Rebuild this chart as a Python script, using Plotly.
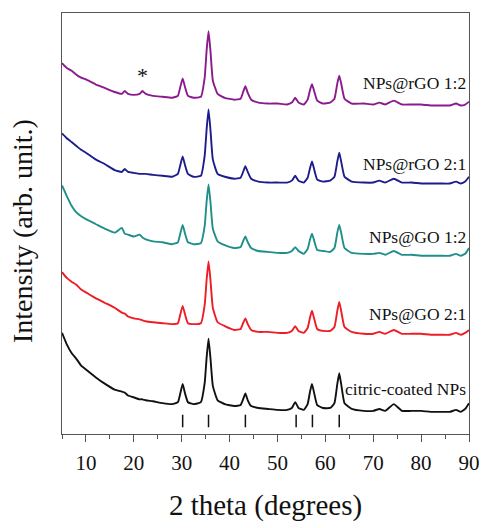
import plotly.graph_objects as go

two_theta = [5, 6, 7, 8, 9, 10, 12, 14, 16, 17.5, 18.1, 18.8, 20, 21.2, 21.8, 22.5, 24, 26, 28,
             29.2, 29.7, 30.2, 30.7, 31.3, 32.5, 34, 34.8, 35.2, 35.6, 36.0, 36.5, 37.5, 39, 41,
             42.3, 42.9, 43.3, 43.8, 44.5, 46, 48, 50, 52, 53, 53.7, 54.4, 55.5,
             56.3, 56.8, 57.2, 57.6, 58.3, 59.5, 61, 61.9, 62.5, 62.9, 63.3, 64, 65.5,
             68, 70, 71.3, 72.5, 74.3, 76, 78, 80, 82, 84, 86, 87.3, 88.3, 89.2, 90]

rgo_1_2 = [385, 380, 377, 373, 370, 368, 363, 359, 355, 353, 356, 353, 352, 353, 356, 353, 351, 350, 349,
           351, 360, 369, 360, 351, 349, 350, 370, 398, 418, 398, 367, 353, 349, 347,
           348, 356, 361, 354, 347, 344, 343, 343, 342, 344, 349, 344, 342,
           347, 357, 363, 357, 346, 343, 344, 348, 364, 372, 364, 348, 343,
           343, 342, 344, 342, 346, 342, 342, 342, 341, 341, 341, 343, 341, 342, 345]

rgo_2_1 = [312, 307, 303, 299, 295, 292, 285, 280, 274, 272, 275, 272, 271, 270, 270, 270, 269, 268, 267,
           270, 279, 288, 279, 270, 267, 268, 289, 316, 337, 316, 285, 270, 267, 265,
           266, 273, 278, 272, 265, 262, 261, 261, 261, 263, 268, 263, 261,
           266, 276, 283, 276, 264, 262, 263, 267, 283, 292, 283, 267, 262,
           261, 261, 263, 261, 265, 261, 261, 260, 260, 260, 260, 262, 260, 262, 267]

go_1_2 = [258, 247, 237, 230, 226, 223, 218, 213, 209, 214, 208, 207, 205, 207, 204, 202, 200, 199, 197,
          199, 208, 217, 208, 199, 197, 198, 216, 241, 259, 241, 213, 200, 196, 193,
          194, 201, 205, 199, 193, 190, 189, 188, 188, 190, 194, 190, 187,
          192, 202, 208, 202, 191, 190, 189, 193, 209, 217, 209, 193, 188,
          187, 187, 188, 186, 190, 186, 186, 185, 185, 185, 185, 187, 185, 187, 193]

go_2_1 = [168, 162, 158, 155, 150, 147, 141, 136, 131, 126, 125, 122, 120, 119, 118, 117, 116, 115, 114,
          115, 124, 133, 124, 115, 114, 115, 134, 160, 179, 160, 131, 116, 112, 108,
          109, 116, 120, 114, 108, 106, 106, 105, 105, 107, 112, 107, 105,
          110, 121, 128, 121, 109, 107, 107, 111, 128, 137, 128, 111, 106,
          104, 104, 106, 104, 108, 104, 104, 104, 103, 103, 103, 105, 103, 105, 108]

citric = [105, 93, 84, 78, 71, 67, 59, 52, 46, 44, 43, 40, 38, 36, 36, 35, 34, 32, 31,
          33, 42, 52, 42, 33, 31, 33, 53, 79, 99, 79, 50, 35, 31, 29,
          30, 37, 42, 35, 29, 27, 26, 25, 25, 27, 33, 27, 25,
          31, 44, 52, 44, 30, 27, 27, 32, 52, 63, 52, 32, 26,
          24, 24, 26, 24, 31, 24, 24, 24, 23, 23, 23, 25, 23, 26, 32]

series_names = ["NPs@rGO 1:2", "NPs@rGO 2:1", "NPs@GO 1:2", "NPs@GO 2:1", "citric-coated NPs"]
series_values = [rgo_1_2, rgo_2_1, go_1_2, go_2_1, citric]
series_colors = ["#8a1a8e", "#1c1c8c", "#1e8f8a", "#ee1c24", "#111111"]
label_y = [364, 280, 205, 125, 47]

ref_peaks = [30.2, 35.6, 43.3, 53.9, 57.3, 62.9]
ref_tick_bottom, ref_tick_top = 7, 20
star_pos = (21.9, 372)

FONT = "Liberation Serif"

fig = go.Figure()
for name, vals, col in zip(series_names, series_values, series_colors):
    fig.add_trace(go.Scatter(x=two_theta, y=vals, mode="lines", name=name,
                             line=dict(color=col, width=1.9, shape="spline", smoothing=0.4),
                             showlegend=False))

for name, ly in zip(series_names, label_y):
    fig.add_annotation(x=89.7, y=ly, xref="x", yref="y", text=name, showarrow=False,
                       xanchor="right", yanchor="middle",
                       font=dict(family=FONT, size=17.5, color="#111"))

fig.add_annotation(x=star_pos[0], y=star_pos[1], xref="x", yref="y", text="*", showarrow=False,
                   font=dict(family=FONT, size=22, color="#111"))

for p in ref_peaks:
    fig.add_shape(type="line", xref="x", yref="y", x0=p, x1=p,
                  y0=ref_tick_bottom, y1=ref_tick_top, line=dict(color="#111", width=1.5))

fig.update_layout(
    width=492, height=528,
    margin=dict(l=62, r=14, t=13, b=78),
    paper_bgcolor="white", plot_bgcolor="white",
    font=dict(family=FONT, color="#111"),
)
fig.update_xaxes(range=[5, 90], tickvals=[10, 20, 30, 40, 50, 60, 70, 80, 90],
                 ticks="outside", ticklen=7, tickcolor="#555", tickwidth=1,
                 minor=dict(dtick=5, tick0=5, ticks="outside", ticklen=4, tickcolor="#555"),
                 showline=True, linecolor="#555", linewidth=1, mirror=True,
                 showgrid=False, zeroline=False, ticklabelstandoff=3,
                 tickfont=dict(family=FONT, size=21, color="#111"),
                 title=dict(text="2 theta (degrees)", font=dict(family=FONT, size=29, color="#111"),
                            standoff=20))
fig.update_yaxes(range=[0, 437], showticklabels=False, ticks="",
                 showline=True, linecolor="#555", linewidth=1, mirror=True,
                 showgrid=False, zeroline=False)
fig.add_annotation(x=0.0, y=0.5, xref="paper", yref="paper", xshift=-22, yshift=-8,
                   xanchor="right", text="Intensity (arb. unit.)", textangle=-90, showarrow=False,
                   font=dict(family=FONT, size=28, color="#111"))

fig.write_html("out.html")
